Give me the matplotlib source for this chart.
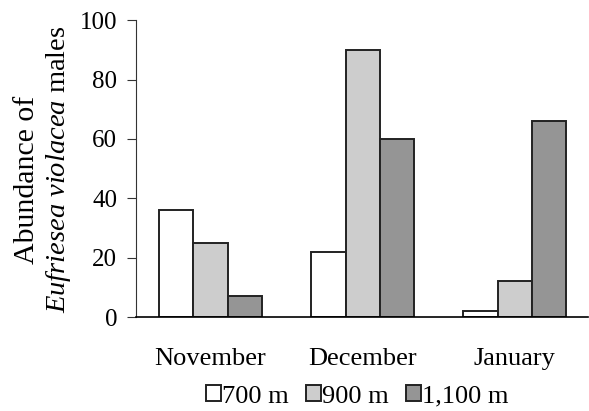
import numpy as np
import matplotlib
matplotlib.use("Agg")
import matplotlib.pyplot as plt

plt.rcParams['font.family'] = ['Liberation Serif', 'DejaVu Serif']
plt.rcParams['mathtext.fontset'] = 'custom'
plt.rcParams['mathtext.rm'] = 'Liberation Serif'
plt.rcParams['mathtext.it'] = 'Liberation Serif:italic'

# data
months = ['November', 'December', 'January']
altitudes = ['700 m', '900 m', '1,100 m']
abund_700 = [36, 22, 2]
abund_900 = [25, 90, 12]
abund_1100 = [7, 60, 66]
yticks = [0, 20, 40, 60, 80, 100]

colors = ['#ffffff', '#cdcdcd', '#959595']
series = [abund_700, abund_900, abund_1100]

fig = plt.figure(figsize=(5.89, 4.11), dpi=100)
ax = fig.add_axes([0.231, 0.2287, 0.767, 0.7223])

x = np.arange(len(months))
w = 0.225
handles = []
for i, (vals, col, lab) in enumerate(zip(series, colors, altitudes)):
    b = ax.bar(x + (i - 1) * w, vals, w, color=col, edgecolor='#222222',
               linewidth=1.4, label=lab)
    handles.append(b)

ax.set_xlim(-0.49, 2.48)
ax.set_ylim(0, 100)
ax.set_yticks(yticks)
ax.set_xticks(x)
ax.set_xticklabels(months)
ax.tick_params(axis='x', length=0, pad=22, labelsize=19)
ax.tick_params(axis='y', length=6.5, width=0.8, pad=7, labelsize=18, color='#333333')

for s in ['top', 'right']:
    ax.spines[s].set_visible(False)
ax.spines['left'].set_color('#333333')
ax.spines['left'].set_linewidth(0.8)
ax.spines['bottom'].set_linewidth(1.2)

# y label, two lines placed separately (second line is centred higher)
fig.text(34 / 589, 1 - 180 / 411, 'Abundance of', fontsize=21.5, rotation=90,
         rotation_mode='anchor', ha='center', va='baseline')
fig.text(65 / 589, 1 - 169 / 411, '$Eufriesea\\ violacea$ males', fontsize=20.5,
         rotation=90, rotation_mode='anchor', ha='center', va='baseline')

fig.legend(handles=handles, labels=altitudes, loc='center',
           bbox_to_anchor=(357.5 / 589, 1 - 396.5 / 411), ncol=3, frameon=False,
           fontsize=19, handlelength=0.55, handleheight=0.55,
           handletextpad=0.07, columnspacing=0.64, borderpad=0)

fig.savefig('out.png', dpi=100)
